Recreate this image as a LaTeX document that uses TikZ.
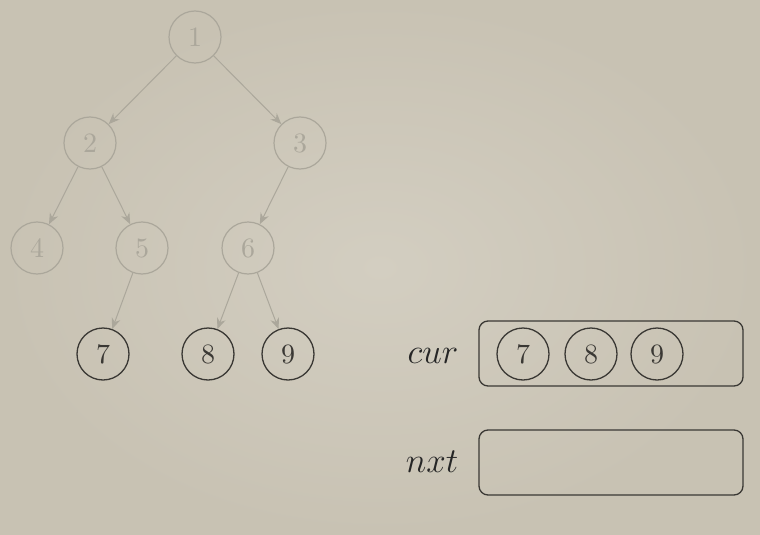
\RequirePackage{fix-cm}
\documentclass[tikz,border=0pt]{standalone}
\usepackage{fontspec}
\newfontfamily\lmten{lmroman10-regular}[Extension=.otf]
\usetikzlibrary{arrows.meta}
\definecolor{bgA}{HTML}{D3CEC1}
\definecolor{bgB}{HTML}{C8C2B3}
\definecolor{faint}{HTML}{ABA79B}
\definecolor{dark}{HTML}{3A3834}
\tikzset{
  faded/.style={circle, draw=faint, line width=1.2pt, text=faint, minimum size=52pt, inner sep=0pt, font=\lmten\fontsize{28}{30}\selectfont},
  solid node/.style={circle, draw=dark, line width=1.3pt, text=dark, minimum size=52pt, inner sep=0pt, font=\lmten\fontsize{28}{30}\selectfont},
  edge/.style={draw=faint, line width=1pt, -{Stealth[length=11pt,width=9pt]}},
  queuebox/.style={draw=dark, line width=1.3pt, rounded corners=9pt, minimum width=264pt, minimum height=65pt, inner sep=0pt},
  lbl/.style={text=black!85, font=\fontsize{35}{37}\selectfont, inner sep=0pt, anchor=base}
}
\begin{document}
\begin{tikzpicture}[x=1pt,y=-1pt]
\useasboundingbox (0,0) rectangle (760,535);
\shade[inner color=bgA, outer color=bgB] (0,0) rectangle (760,535);
% tree
\node[faded] (n1) at (195,37) {1};
\node[faded] (n2) at (90,143) {2};
\node[faded] (n3) at (300,143) {3};
\node[faded] (n4) at (37,248) {4};
\node[faded] (n5) at (142,248) {5};
\node[faded] (n6) at (248,248) {6};
\node[solid node] (n7) at (103,354) {7};
\node[solid node] (n8) at (208,354) {8};
\node[solid node] (n9) at (288,354) {9};
\draw[edge] (n1) -- (n2);
\draw[edge] (n1) -- (n3);
\draw[edge] (n2) -- (n4);
\draw[edge] (n2) -- (n5);
\draw[edge] (n3) -- (n6);
\draw[edge] (n5) -- (n7);
\draw[edge] (n6) -- (n8);
\draw[edge] (n6) -- (n9);
% queues
\node[queuebox] (cur) at (611,353.5) {};
\node[queuebox] (nxt) at (611,462.5) {};
\node[lbl] (curl) at (433,363) {$cur$};
\node[lbl] (nxtl) at (432,472) {$nxt$};
\node[solid node] (q7) at (523,354) {7};
\node[solid node] (q8) at (591,354) {8};
\node[solid node] (q9) at (657,354) {9};
\end{tikzpicture}
\end{document}
